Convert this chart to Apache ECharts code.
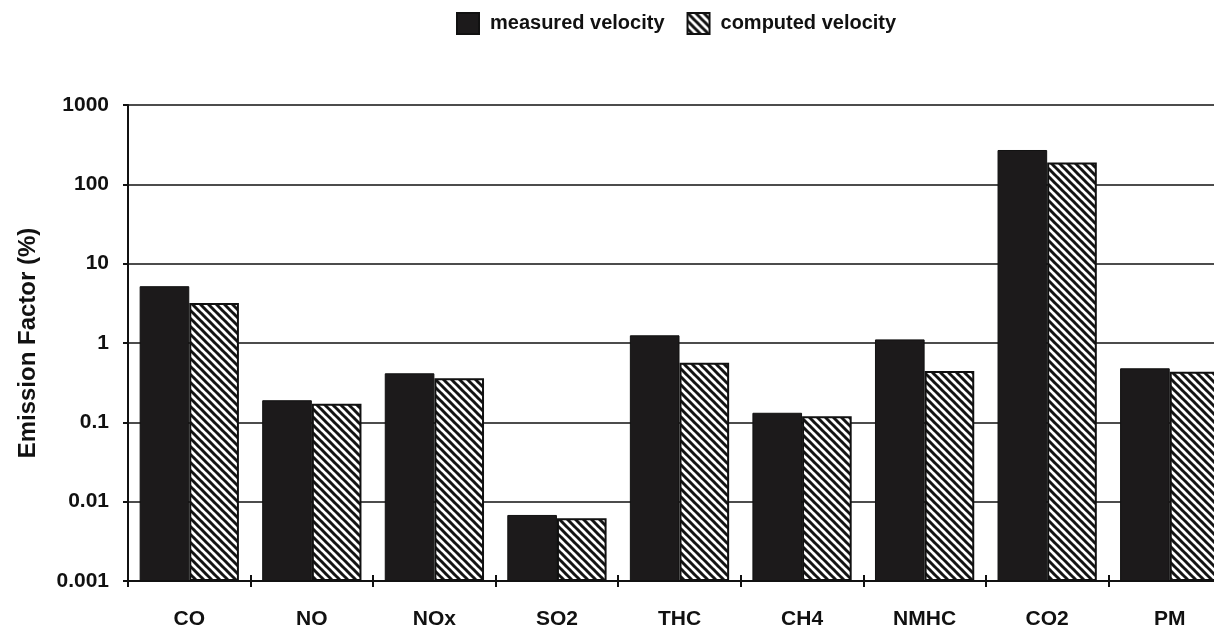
<!DOCTYPE html>
<html>
<head>
<meta charset="utf-8">
<script src="https://cdn.jsdelivr.net/npm/echarts@6/dist/echarts.min.js"></script>
<style>
html,body{margin:0;padding:0;background:#fff;}
#chart{width:1214px;height:634px;}
</style>
</head>
<body>
<div id="chart"></div>
<script>
const categories = ['CO', 'NO', 'NOx', 'SO2', 'THC', 'CH4', 'NMHC', 'CO2', 'PM'];
const measured = [5.2, 0.19, 0.415, 0.0068, 1.25, 0.132, 1.11, 271, 0.48];
const computed = [3.2, 0.172, 0.359, 0.0062, 0.565, 0.119, 0.443, 188, 0.435];
const yTickLabels = ['0.001', '0.01', '0.1', '1', '10', '100', '1000'];
const seriesNames = ['measured velocity', 'computed velocity'];

// log10 scale, offset so the axis floor (0.001) is the bar baseline
const LOG_MIN = -3;
const toScale = v => Math.log10(v) - LOG_MIN;

function hatch() {
  const s = 8;
  const c = document.createElement('canvas');
  c.width = s; c.height = s;
  const g = c.getContext('2d');
  g.fillStyle = '#ffffff';
  g.fillRect(0, 0, s, s);
  g.strokeStyle = '#141414';
  g.lineWidth = 3;
  for (const k of [-s, 0, s]) {
    g.beginPath();
    g.moveTo(k - 1, -1);
    g.lineTo(k + s + 1, s + 1);
    g.stroke();
  }
  return c;
}

const font = "'Liberation Sans', Arial, Helvetica, sans-serif";
const chart = echarts.init(document.getElementById('chart'), null, {renderer: 'canvas'});
chart.setOption({
  animation: false,
  backgroundColor: '#ffffff',
  textStyle: {fontFamily: font, color: '#111'},
  legend: {
    left: 451, top: 7,
    itemWidth: 22, itemHeight: 21, itemGap: 22,
    icon: 'rect',
    textStyle: {fontSize: 20, fontWeight: 'bold', color: '#111', fontFamily: font, padding: [8, 0, 0, 6]},
    data: seriesNames
  },
  grid: {left: 128, width: 1103, top: 105, bottom: 53, containLabel: false, outerBoundsMode: 'none'},
  xAxis: [{
    type: 'category',
    data: categories,
    axisLine: {lineStyle: {color: '#111', width: 2}},
    axisTick: {show: true, length: 6, lineStyle: {color: '#111', width: 2}},
    axisLabel: {fontSize: 21, fontWeight: 'bold', color: '#111', margin: 28, fontFamily: font},
    splitLine: {show: false}
  }, {
    type: 'category',
    data: categories,
    position: 'bottom',
    axisLine: {show: false},
    axisTick: {show: true, inside: true, length: 6, lineStyle: {color: '#111', width: 2}},
    axisLabel: {show: false},
    splitLine: {show: false}
  }],
  yAxis: {
    type: 'value',
    min: 0,
    max: yTickLabels.length - 1,
    interval: 1,
    name: 'Emission Factor (%)',
    nameLocation: 'middle',
    nameGap: 88,
    nameTextStyle: {fontSize: 24, fontWeight: 'bold', color: '#111', fontFamily: font},
    axisLine: {show: true, lineStyle: {color: '#111', width: 2}},
    axisTick: {show: true, length: 5, lineStyle: {color: '#111', width: 2}},
    axisLabel: {
      fontSize: 21, fontWeight: 'bold', color: '#111', margin: 19, fontFamily: font,
      formatter: function (v) {
        const i = Math.round(v);
        return yTickLabels[i] !== undefined ? yTickLabels[i] : '';
      }
    },
    splitLine: {show: true, lineStyle: {color: '#111', width: 1.6}}
  },
  series: [{
    name: seriesNames[0],
    type: 'bar',
    data: measured.map(toScale),
    barGap: '0%',
    barCategoryGap: '19%',
    itemStyle: {color: '#1c1a1b', borderColor: '#111', borderWidth: 1}
  }, {
    name: seriesNames[1],
    type: 'bar',
    data: computed.map(toScale),
    barGap: '0%',
    barCategoryGap: '19%',
    itemStyle: {color: {image: hatch(), repeat: 'repeat'}, borderColor: '#111', borderWidth: 2}
  }]
});
</script>
</body>
</html>
